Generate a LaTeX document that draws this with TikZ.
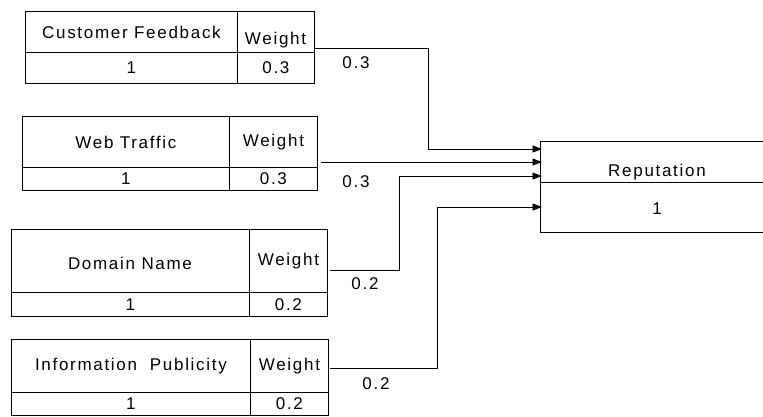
\documentclass[tikz,border=0pt]{standalone}
\usepackage{fontspec}
\setmainfont{Liberation Sans}[LetterSpace=10]
\usetikzlibrary{arrows.meta}
\begin{document}
\begin{tikzpicture}[x=1pt,y=-1pt,line width=0.9pt,
  cell/.style={draw, inner sep=0pt, anchor=north west, font=\fontsize{17}{19}\selectfont},
  lbl/.style={font=\fontsize{17}{19}\selectfont, inner sep=0pt},
  arr/.style={-{Triangle[length=9.5pt,width=7pt]}}]
\useasboundingbox (0,0) rectangle (763,416);
% Customer Feedback
\node[cell, minimum width=212pt, minimum height=41pt] (cft) at (25,11) {Customer Feedback};
\node[cell, minimum width=77pt, minimum height=41pt] (cfw) at (237,11) {};
\node[lbl] (cfwt) at (275.5,40) {Weight};
\node[cell, minimum width=212pt, minimum height=31pt] (cfv) at (25,52) {1};
\node[cell, minimum width=77pt, minimum height=31pt] (cfwv) at (237,52) {0.3};
% Web Traffic
\node[cell, minimum width=207pt, minimum height=51pt] (wtt) at (22,116) {Web Traffic};
\node[cell, minimum width=88pt, minimum height=51pt] (wtw) at (229,116) {Weight};
\node[cell, minimum width=207pt, minimum height=23pt] (wtv) at (22,167) {1};
\node[cell, minimum width=88pt, minimum height=23pt] (wtwv) at (229,167) {0.3};
% Domain Name
\node[cell, minimum width=238pt, minimum height=63pt] (dnt) at (11,229) {};
\node[lbl] (dntt) at (130,263) {Domain Name};
\node[cell, minimum width=78pt, minimum height=63pt] (dnw) at (249,229) {Weight};
\node[cell, minimum width=238pt, minimum height=24pt] (dnv) at (11,292) {1};
\node[cell, minimum width=78pt, minimum height=24pt] (dnwv) at (249,292) {0.2};
% Information Publicity
\node[cell, minimum width=239pt, minimum height=53pt] (ipt) at (11,339) {Information\ \ Publicity};
\node[cell, minimum width=78pt, minimum height=53pt] (ipw) at (250,339) {Weight};
\node[cell, minimum width=239pt, minimum height=23pt] (ipv) at (11,392) {1};
\node[cell, minimum width=78pt, minimum height=23pt] (ipwv) at (250,392) {0.2};
% Reputation
\draw (763,141) -- (540,141) -- (540,232) -- (763,232);
\draw (540,182) -- (763,182);
\node[lbl] (rep) at (657,172) {Reputation};
\node[lbl] (rep1) at (657,209) {1};
% connectors
\coordinate (o1) at (314,48);
\coordinate (o2) at (321,162);
\coordinate (o3) at (330,270);
\coordinate (o4) at (330,368);
\coordinate (in1) at (542,149);
\coordinate (in2) at (542,162);
\coordinate (in3) at (542,176);
\coordinate (in4) at (542,207);
\draw[arr] (o1) -- (428,48) |- (in1);
\draw[arr] (o2) -- (in2);
\draw[arr] (o3) -- (399,270) |- (in3);
\draw[arr] (o4) -- (437,368) |- (in4);
% labels
\node[lbl] (l1) at (356,63) {0.3};
\node[lbl] (l2) at (356,182) {0.3};
\node[lbl] (l3) at (365,284) {0.2};
\node[lbl] (l4) at (376,384) {0.2};
\end{tikzpicture}
\end{document}
